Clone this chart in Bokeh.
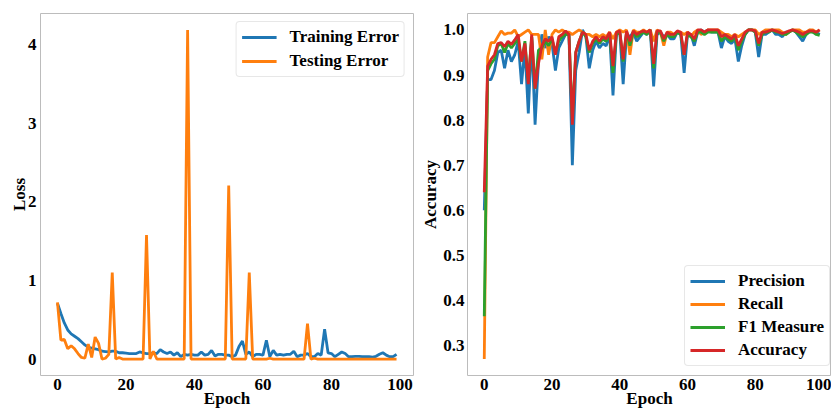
from bokeh.plotting import figure
from bokeh.layouts import row
from bokeh.models import Range1d, FixedTicker, PrintfTickFormatter
from bokeh.embed import file_html
from bokeh.resources import INLINE

epochs = list(range(100))

training_error = [
    0.71, 0.58, 0.46, 0.37, 0.32, 0.29, 0.26, 0.22, 0.18, 0.15,
    0.14, 0.13, 0.12, 0.10, 0.095, 0.09, 0.10, 0.10, 0.08, 0.08,
    0.075, 0.07, 0.07, 0.07, 0.09, 0.08, 0.07, 0.07, 0.08, 0.07,
    0.12, 0.09, 0.07, 0.09, 0.05, 0.08, 0.03, 0.06, 0.05, 0.06,
    0.05, 0.05, 0.09, 0.05, 0.06, 0.11, 0.04, 0.06, 0.06, 0.05,
    0.05, 0.03, 0.05, 0.16, 0.23, 0.06, 0.09, 0.03, 0.06, 0.06,
    0.05, 0.24, 0.03, 0.11, 0.05, 0.06, 0.05, 0.06, 0.06, 0.10,
    0.03, 0.05, 0.05, 0.07, 0.03, 0.03, 0.07, 0.05, 0.38, 0.08,
    0.07, 0.03, 0.06, 0.09, 0.07, 0.03, 0.03, 0.035, 0.035, 0.03,
    0.03, 0.03, 0.025, 0.035, 0.06, 0.08, 0.05, 0.03, 0.03, 0.06,
]

testing_error = [
    0.72, 0.24, 0.25, 0.13, 0.17, 0.13, 0.07, 0.02, 0.01, 0.19,
    0.02, 0.28, 0.20, 0.0, 0.01, 0.06, 1.10, 0.0, 0.02, 0.0,
    0.0, 0.0, 0.0, 0.0, 0.0, 0.0, 1.58, 0.0, 0.10, 0.0,
    0.0, 0.0, 0.0, 0.0, 0.0, 0.0, 0.0, 0.0, 4.19, 0.0,
    0.0, 0.0, 0.0, 0.0, 0.0, 0.0, 0.0, 0.0, 0.0, 0.0,
    2.21, 0.0, 0.0, 0.0, 0.0, 0.0, 1.10, 0.0, 0.0, 0.0,
    0.0, 0.0, 0.01, 0.0, 0.0, 0.0, 0.0, 0.0, 0.0, 0.0,
    0.0, 0.0, 0.0, 0.45, 0.0, 0.01, 0.0, 0.0, 0.0, 0.0,
    0.0, 0.0, 0.0, 0.0, 0.0, 0.0, 0.0, 0.0, 0.0, 0.0,
    0.0, 0.0, 0.0, 0.0, 0.0, 0.0, 0.0, 0.0, 0.0, 0.0,
]

precision = [
    0.60, 0.89, 0.89, 0.91, 0.95, 0.955, 0.915, 0.955, 0.93, 0.945,
    0.975, 0.88, 0.96, 0.815, 0.985, 0.79, 0.93, 0.99, 0.96, 0.985,
    0.97, 0.91, 0.96, 0.975, 0.99, 0.99, 0.70, 0.91, 0.95, 1.0,
    0.985, 0.915, 0.955, 0.975, 0.96, 0.97, 0.965, 0.99, 0.855, 0.99,
    0.995, 0.88, 0.99, 0.985, 0.995, 0.975, 0.985, 0.995, 0.99, 1.0,
    0.875, 0.99, 0.995, 0.985, 0.99, 0.98, 0.98, 0.995, 0.99, 0.905,
    0.99, 0.99, 0.965, 0.995, 1.0, 0.995, 1.0, 0.995, 0.995, 0.995,
    0.96, 0.985, 0.975, 0.97, 0.98, 0.93, 0.965, 0.99, 1.0, 1.0,
    0.995, 0.94, 0.99, 0.99, 0.995, 1.0, 0.99, 0.99, 0.985, 0.995,
    0.995, 1.0, 0.995, 0.985, 0.975, 0.99, 1.0, 0.995, 0.995, 0.99,
]

recall = [
    0.27, 0.94, 0.972, 0.972, 0.985, 0.998, 0.99, 0.993, 0.993, 1.0,
    0.985, 0.99, 0.995, 1.0, 0.99, 0.99, 0.99, 0.935, 1.0, 0.945,
    0.99, 1.0, 0.995, 1.0, 0.995, 0.995, 0.99, 0.995, 1.0, 0.995,
    0.99, 0.99, 0.985, 0.99, 0.985, 0.99, 0.985, 0.995, 0.98, 0.995,
    1.0, 0.995, 1.0, 0.945, 1.0, 0.995, 0.995, 1.0, 0.995, 1.0,
    0.975, 1.0, 0.995, 0.965, 0.995, 0.995, 0.99, 0.995, 0.995, 0.99,
    0.995, 0.985, 0.995, 1.0, 0.99, 0.995, 1.0, 1.0, 1.0, 1.0,
    0.995, 0.99, 0.99, 0.985, 0.99, 0.985, 0.99, 0.995, 1.0, 1.0,
    1.0, 0.99, 0.995, 1.0, 1.0, 1.0, 1.0, 1.0, 0.995, 0.99,
    0.995, 1.0, 1.0, 1.0, 0.995, 0.995, 1.0, 1.0, 0.995, 1.0,
]

f1_measure = [
    0.365, 0.91, 0.925, 0.935, 0.965, 0.97, 0.95, 0.97, 0.96, 0.97,
    0.98, 0.93, 0.975, 0.885, 0.985, 0.87, 0.955, 0.96, 0.975, 0.965,
    0.98, 0.95, 0.975, 0.985, 0.99, 0.99, 0.80, 0.95, 0.975, 0.995,
    0.985, 0.95, 0.97, 0.98, 0.97, 0.98, 0.975, 0.99, 0.905, 0.99,
    0.995, 0.93, 0.995, 0.965, 0.995, 0.985, 0.99, 0.995, 0.99, 1.0,
    0.915, 0.995, 0.995, 0.975, 0.99, 0.985, 0.985, 0.995, 0.99, 0.945,
    0.99, 0.985, 0.975, 0.995, 0.995, 0.99, 0.995, 0.995, 0.995, 0.995,
    0.975, 0.985, 0.98, 0.975, 0.985, 0.955, 0.975, 0.99, 1.0, 1.0,
    0.995, 0.965, 0.99, 0.995, 0.995, 1.0, 0.995, 0.995, 0.99, 0.99,
    0.995, 1.0, 0.995, 0.99, 0.985, 0.99, 0.995, 0.995, 0.99, 0.988,
]

accuracy = [
    0.64, 0.92, 0.935, 0.945, 0.97, 0.972, 0.963, 0.975, 0.968, 0.978,
    0.99, 0.93, 0.97, 0.88, 0.99, 0.87, 0.925, 0.965, 0.98, 0.975,
    0.985, 0.945, 0.985, 0.99, 0.998, 0.99, 0.79, 0.95, 0.975, 0.995,
    0.99, 0.955, 0.975, 0.985, 0.975, 0.985, 0.98, 0.995, 0.92, 0.995,
    0.998, 0.935, 0.998, 0.975, 0.998, 0.99, 0.995, 0.998, 0.995, 1.0,
    0.925, 0.998, 0.998, 0.98, 0.995, 0.99, 0.99, 0.998, 0.995, 0.945,
    0.995, 0.99, 0.98, 1.0, 1.0, 0.995, 1.0, 1.0, 1.0, 1.0,
    0.985, 0.99, 0.985, 0.98, 0.99, 0.965, 0.98, 0.995, 1.0, 1.0,
    0.998, 0.97, 0.995, 0.995, 0.998, 1.0, 0.998, 0.995, 0.992, 0.995,
    0.998, 1.0, 0.998, 0.995, 0.99, 0.995, 0.998, 0.998, 0.995, 1.0,
]

x_ticks = [0, 20, 40, 60, 80, 100]
loss_ticks = [0, 1, 2, 3, 4]
acc_ticks = [0.3, 0.4, 0.5, 0.6, 0.7, 0.8, 0.9, 1.0]

BLUE, ORANGE, GREEN, RED = "#1f77b4", "#ff7f0e", "#2ca02c", "#d62728"
FONT = "Liberation Serif"
FS = "17px"
LW = 2.8


def style(p, yticks):
    p.outline_line_color = "#bcbcbc"
    p.outline_line_width = 1
    p.xgrid.grid_line_color = None
    p.ygrid.grid_line_color = None
    p.xaxis.ticker = FixedTicker(ticks=x_ticks)
    p.yaxis.ticker = FixedTicker(ticks=yticks)
    for ax in (p.xaxis[0], p.yaxis[0]):
        ax.axis_line_color = None
        ax.major_tick_line_color = None
        ax.minor_tick_line_color = None
        ax.major_tick_out = 0
        ax.major_tick_in = 0
        ax.minor_tick_out = 0
        ax.minor_tick_in = 0
        ax.major_label_text_font = FONT
        ax.major_label_text_font_style = "bold"
        ax.major_label_text_font_size = FS
        ax.major_label_text_color = "black"
        ax.axis_label_text_font = FONT
        ax.axis_label_text_font_style = "bold"
        ax.axis_label_text_font_size = FS
        ax.axis_label_text_color = "black"
    p.xaxis.axis_label = "Epoch"
    p.xaxis.major_label_standoff = 3
    p.xaxis.axis_label_standoff = -4


def style_legend(p, loc, spacing):
    lg = p.legend[0]
    lg.location = loc
    lg.margin = 8
    lg.padding = 5
    lg.spacing = spacing
    lg.glyph_width = 35
    lg.glyph_height = 20
    lg.label_height = 20
    lg.label_standoff = 13
    lg.label_text_font = FONT
    lg.label_text_font_style = "bold"
    lg.label_text_font_size = FS
    lg.label_text_color = "black"
    lg.border_line_color = "#d0d0d0"
    lg.border_line_width = 1
    lg.background_fill_alpha = 0.9
    if "border_radius" in lg.properties():
        lg.border_radius = 4


p1 = figure(width=418, height=410, output_backend="svg", toolbar_location=None,
            x_range=Range1d(-4.95, 103.95), y_range=Range1d(-0.2095, 4.3995),
            min_border_left=40, min_border_right=5, min_border_top=13,
            min_border_bottom=35)
p1.line(epochs, training_error, color=BLUE, line_width=LW, legend_label="Training Error")
p1.line(epochs, testing_error, color=ORANGE, line_width=LW, legend_label="Testing Error")
style(p1, loss_ticks)
p1.yaxis.axis_label = "Loss"
p1.yaxis.major_label_standoff = 4
p1.yaxis.axis_label_standoff = -4
style_legend(p1, "top_right", 4)

p2 = figure(width=413, height=410, output_backend="svg", toolbar_location=None,
            x_range=Range1d(-4.95, 102.5), y_range=Range1d(0.2335, 1.0365),
            min_border_left=45, min_border_right=0, min_border_top=13,
            min_border_bottom=35)
p2.line(epochs, precision, color=BLUE, line_width=LW, legend_label="Precision")
p2.line(epochs, recall, color=ORANGE, line_width=LW, legend_label="Recall")
p2.line(epochs, f1_measure, color=GREEN, line_width=LW, legend_label="F1 Measure")
p2.line(epochs, accuracy, color=RED, line_width=LW, legend_label="Accuracy")
style(p2, acc_ticks)
p2.yaxis.formatter = PrintfTickFormatter(format="%.1f")
p2.yaxis.axis_label = "Accuracy"
p2.yaxis.major_label_standoff = 3
p2.yaxis.axis_label_standoff = 0
style_legend(p2, (217, 9), 3)

layout = row(p1, p2)
open("out.html", "w").write(file_html(layout, INLINE))
